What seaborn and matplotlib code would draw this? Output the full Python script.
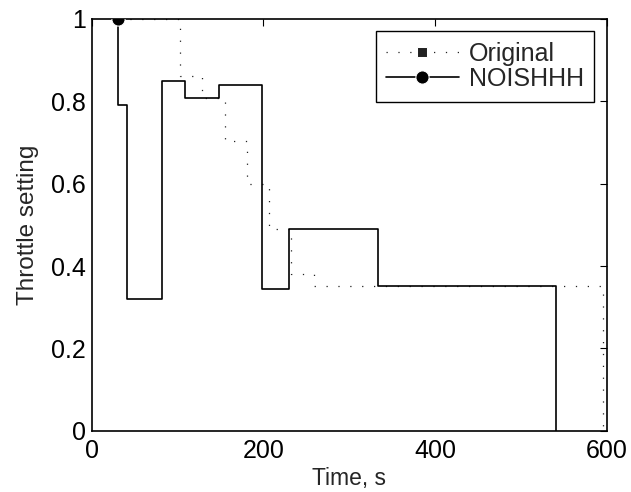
import numpy as np
import pandas as pd
import matplotlib
matplotlib.use("Agg")
import matplotlib.pyplot as plt
import seaborn as sns

# Data (step functions, value holds until next time)
noishhh_t = [31, 31, 41, 82, 109, 148, 199, 229.5, 333, 541]
noishhh_v = [1.0, 0.792, 0.319, 0.849, 0.808, 0.840, 0.345, 0.489, 0.351, 0.0]
original_t = [31, 103, 129, 155, 181, 206.5, 232, 258.5, 596]
original_v = [1.0, 0.861, 0.808, 0.704, 0.598, 0.490, 0.380, 0.351, 0.0]
xticks = [0, 200, 400, 600]
xticklabels = ["0", "200", "400", "600"]
yticks = [0, 0.2, 0.4, 0.6, 0.8, 1.0]
yticklabels = ["0", "0.2", "0.4", "0.6", "0.8", "1"]

sns.set_style("white")
plt.rcParams['font.family'] = ['Liberation Sans', 'DejaVu Sans']

fig = plt.figure(figsize=(6.31, 4.92), dpi=100)
ax = fig.add_axes([0.1453, 0.1246, 0.9615 - 0.1453, 0.9614 - 0.1246])

df_o = pd.DataFrame({"t": original_t, "v": original_v})
df_n = pd.DataFrame({"t": noishhh_t, "v": noishhh_v})

sns.lineplot(data=df_o, x="t", y="v", ax=ax, estimator=None, sort=False,
             drawstyle="steps-post", color="#222222", lw=0.9,
             linestyle=(0, (1, 8.5)), marker="s", markersize=7.5,
             markevery=[0], label="Original", zorder=2)
sns.lineplot(data=df_n, x="t", y="v", ax=ax, estimator=None, sort=False,
             drawstyle="steps-post", color="black", lw=1.2,
             linestyle="-", marker="o", markersize=9.5,
             markevery=[0], label="NOISHHH", zorder=3)

ax.set_xlim(0, 600)
ax.set_ylim(0, 1)
ax.set_xticks(xticks)
ax.set_xticklabels(xticklabels)
ax.set_yticks(yticks)
ax.set_yticklabels(yticklabels)
ax.tick_params(direction="in", length=5, width=0.8, top=True, right=True,
               labelsize=18, colors="black", pad=4)
ax.tick_params(axis="x", pad=6)
for s in ax.spines.values():
    s.set_color("black")
    s.set_linewidth(1.2)
ax.set_xlabel("Time, s", fontsize=16.5, labelpad=3)
ax.set_ylabel("Throttle setting", fontsize=17.5, labelpad=9)

leg = ax.legend(loc="upper right", fontsize=18, frameon=True, fancybox=False,
                edgecolor="black", framealpha=1, handlelength=2.9,
                borderaxespad=0.5, borderpad=0.42, labelspacing=0.05,
                handletextpad=0.4)
leg.get_frame().set_linewidth(1.0)

fig.savefig("out.png", dpi=100)
